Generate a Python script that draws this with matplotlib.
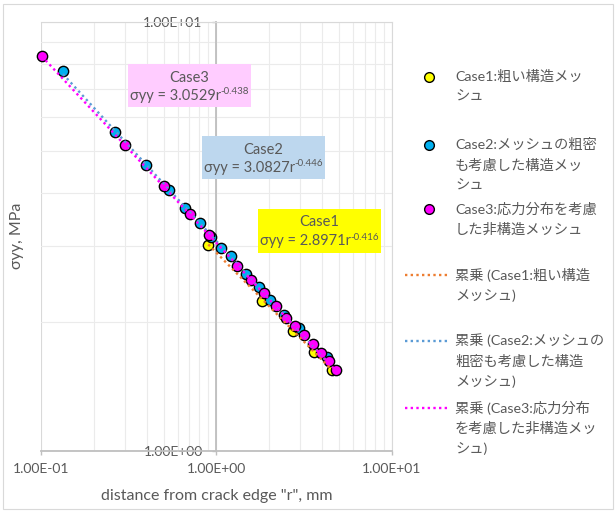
import numpy as np
import matplotlib.pyplot as plt
from matplotlib.lines import Line2D
from matplotlib.patches import Rectangle
from matplotlib.ticker import FixedLocator, FuncFormatter, LogLocator, NullFormatter

plt.rcParams['font.family'] = ['Lato', 'Noto Sans CJK JP', 'DejaVu Sans']

W, H = 615, 512
TXT = '#595959'

# distance r [mm] and sigma_yy [MPa] for each mesh case
case1_r = [0.898, 1.81, 2.72, 3.59, 4.53]
case1_s = [3.02, 2.24, 1.90, 1.70, 1.54]

case2_r = [0.1335, 0.265, 0.398, 0.533, 0.664, 0.801, 0.930, 1.065, 1.21,
           1.473, 1.738, 2.007, 2.434, 2.95, 4.26]
case2_s = [7.71, 5.55, 4.64, 4.06, 3.69, 3.40, 3.15, 2.98, 2.84,
           2.59, 2.41, 2.25, 2.07, 1.93, 1.652]

case3_r = [0.101, 0.302, 0.504, 0.703, 0.902, 1.31, 1.573, 1.873, 2.172,
           2.476, 2.80, 3.135, 3.53, 3.94, 4.35, 4.82]
case3_s = [8.34, 5.17, 4.15, 3.56, 3.19, 2.70, 2.50, 2.33, 2.18,
           2.04, 1.955, 1.863, 1.772, 1.694, 1.62, 1.543]

# power-law fits  sigma = c * r^e
fit_coef = [2.8971, 3.0827, 3.0529]
fit_exp = [-0.416, -0.446, -0.438]

case_titles = ["Case1", "Case2", "Case3"]
series_names = ["Case1:粗い構造メッ\nシュ",
                "Case2:メッシュの粗密\nも考慮した構造メッ\nシュ",
                "Case3:応力分布を考慮\nした非構造メッシュ"]
trend_names = ["累乗 (Case1:粗い構造\nメッシュ)",
               "累乗 (Case2:メッシュの\n粗密も考慮した構造\nメッシュ)",
               "累乗 (Case3:応力分布\nを考慮した非構造メッ\nシュ)"]

marker_colors = ['#FFFF00', '#00B0F0', '#FF00FF']
line_colors = ['#ED7D31', '#5B9BD5', '#FF00FF']
box_colors = ['#FFFF00', '#BDD7EE', '#FFCCFF']
box_px = [(258, 209, 381, 253), (202, 136, 325, 179), (128, 64, 251, 107)]

data = [(case1_r, case1_s), (case2_r, case2_s), (case3_r, case3_s)]


def fx(x):
    return x / W


def fy(y):
    return 1 - y / H


fig = plt.figure(figsize=(W / 100, H / 100), dpi=100)
fig.add_artist(Rectangle((fx(3), fy(509)), fx(610), 505 / H, transform=fig.transFigure,
                         fill=False, edgecolor='#D9D9D9', lw=0.8))

ax = fig.add_axes([fx(41), fy(450.7), (392 - 41) / W, (450.7 - 22.3) / H])
ax.set_xscale('log')
ax.set_yscale('log')
ax.set_xlim(0.1, 10)
ax.set_ylim(1, 10)

ax.xaxis.set_major_locator(FixedLocator([0.1, 1, 10]))
ax.yaxis.set_major_locator(FixedLocator([1, 10]))
ax.xaxis.set_minor_locator(LogLocator(base=10, subs=np.arange(2, 10)))
ax.yaxis.set_minor_locator(LogLocator(base=10, subs=np.arange(2, 10)))
sci = FuncFormatter(lambda v, p: f"{v:.2E}")
ax.xaxis.set_major_formatter(sci)
ax.yaxis.set_major_formatter(sci)
ax.xaxis.set_minor_formatter(NullFormatter())
ax.yaxis.set_minor_formatter(NullFormatter())

ax.grid(which='major', color='#D9D9D9', lw=0.8)
ax.grid(which='minor', color='#EBEBEB', lw=0.8)
ax.set_axisbelow(True)

ax.spines['left'].set_position(('data', 1))
for side in ['left', 'bottom']:
    ax.spines[side].set_color('#BFBFBF')
    ax.spines[side].set_linewidth(1.3)
for side in ['top', 'right']:
    ax.spines[side].set_color('#D9D9D9')
    ax.spines[side].set_linewidth(0.8)

ax.tick_params(which='major', colors='#BFBFBF', labelcolor=TXT, labelsize=10,
               length=3, width=1)
ax.tick_params(axis='x', pad=6)
ax.tick_params(axis='y', pad=7)
ax.tick_params(which='minor', length=0)

# points
for (r, s), mc in zip(data, marker_colors):
    ax.scatter(r, s, s=55, color=mc, edgecolors='black', linewidths=1.0,
               zorder=3, clip_on=False)

# trendlines over each case's range
for (r, s), c, e, lc in zip(data, fit_coef, fit_exp, line_colors):
    rr = np.geomspace(min(r), max(r), 100)
    ax.plot(rr, c * rr ** e, color=lc, lw=1.7, linestyle=(0, (1, 1.4)), zorder=4)

# equation boxes
renderer = fig.canvas.get_renderer()
for title, c, e, bc, (x0, y0, x1, y1) in zip(case_titles, fit_coef, fit_exp,
                                            box_colors, box_px):
    fig.add_artist(Rectangle((fx(x0), fy(y1)), (x1 - x0) / W, (y1 - y0) / H,
                             transform=fig.transFigure, color=bc, lw=0, zorder=5))
    cx = (x0 + x1) / 2
    fig.text(fx(cx), fy(y0 + 13.5), title, ha='center', va='center',
             fontsize=10.5, color=TXT, zorder=6)
    base = fig.text(0, fy(y0 + 32), f"σyy = {c:.4f}r", ha='left', va='center',
                    fontsize=10.5, color=TXT, zorder=6)
    sup = fig.text(0, fy(y0 + 28), f"{e}", ha='left', va='center',
                   fontsize=7, color=TXT, zorder=6)
    wb = base.get_window_extent(renderer).width
    ws = sup.get_window_extent(renderer).width
    left = cx - (wb + ws) / 2
    base.set_x(fx(left))
    sup.set_x(fx(left + wb))

# axis titles
fig.text(fx(17), fy(236), "σyy, MPa", rotation=90, ha='center', va='center',
         fontsize=11.5, color=TXT)
fig.text(fx(216.5), fy(496), 'distance from crack edge "r", mm', ha='center',
         va='center', fontsize=11.5, color=TXT)

# legend
entry_y = [76.5, 144.5, 209, 275, 340.5, 407.5]
line_gap = 20.3
for i, (name, mc) in enumerate(zip(series_names, marker_colors)):
    y = entry_y[i]
    fig.add_artist(Line2D([fx(429)], [fy(y)], transform=fig.transFigure, marker='o',
                          markersize=7, markerfacecolor=mc, markeredgecolor='black',
                          markeredgewidth=1.0, linestyle='none'))
    for k, line in enumerate(name.split("\n")):
        fig.text(fx(455), fy(y + k * line_gap), line, ha='left', va='center',
                 fontsize=10.3, color=TXT)
for i, (name, lc) in enumerate(zip(trend_names, line_colors)):
    y = entry_y[3 + i]
    fig.add_artist(Line2D([fx(405), fx(450)], [fy(y), fy(y)], transform=fig.transFigure,
                          color=lc, lw=1.7, linestyle=(0, (1, 1.4))))
    for k, line in enumerate(name.split("\n")):
        fig.text(fx(455), fy(y + k * line_gap), line, ha='left', va='center',
                 fontsize=10.3, color=TXT)

fig.savefig("out.png", dpi=100)
